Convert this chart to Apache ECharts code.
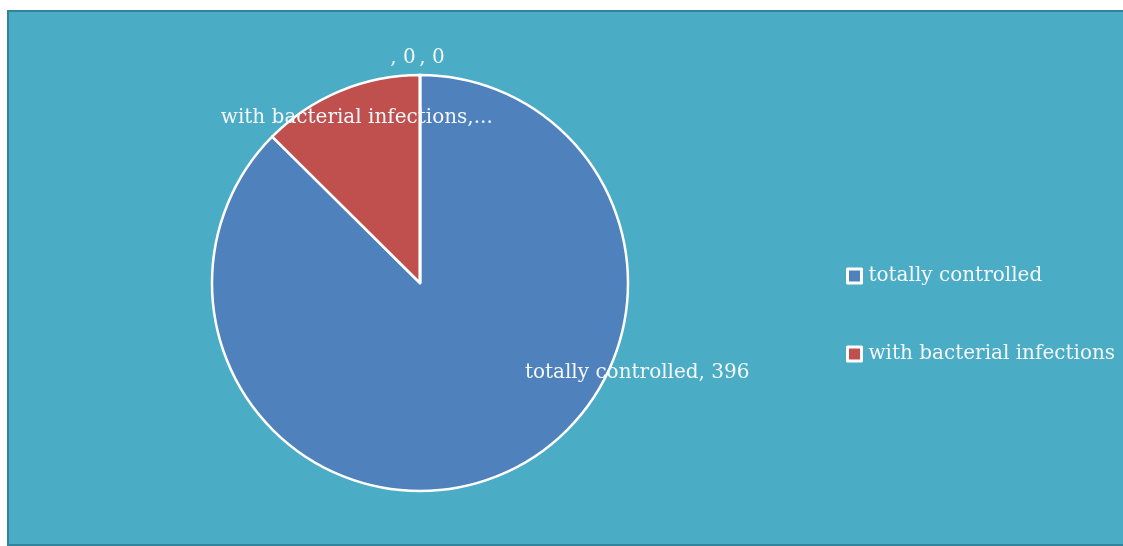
<!DOCTYPE html>
<html>
<head>
<meta charset="utf-8">
<script src="https://cdn.jsdelivr.net/npm/echarts@6/dist/echarts.min.js"></script>
<style>
  html, body { margin: 0; padding: 0; background: #ffffff; }
  #chart { width: 1123px; height: 546px; }
</style>
</head>
<body>
<div id="chart"></div>
<script>
  // data
  const names = ['totally controlled', 'with bacterial infections', '', '']
  const values = [396, 57, 0, 0]
  const legendNames = ['totally controlled', 'with bacterial infections']

  const colorList = ['#4f81bd', '#c0504d', '#9bbb59', '#8064a2']
  const textColor = '#f4f8fa'
  const fontFamily = '"DejaVu Serif", serif'

  // label nudges from the default inside position
  const labelShift = [
    { dx: 176, dy: -9 },
    { dx: -22, dy: -66 },
    { dx: -17, dy: -118 },
    { dx: 12, dy: -118 }
  ]

  const myChart = echarts.init(document.getElementById('chart'))

  const pieData = names.map((name, i) => ({
    name: name,
    value: values[i],
    itemStyle: { color: colorList[i] }
  }))

  const option = {
    animation: false,
    graphic: [
      {
        type: 'rect',
        z: -10,
        silent: true,
        shape: { x: 8, y: 11, width: 1130, height: 534 },
        style: { fill: '#4bacc6', stroke: '#31849b', lineWidth: 2 }
      }
    ],
    legend: {
      data: legendNames,
      orient: 'vertical',
      left: 841,
      top: 261,
      itemWidth: 14,
      itemHeight: 14,
      itemGap: 58,
      icon: 'rect',
      itemStyle: { borderColor: '#ffffff', borderWidth: 3 },
      textStyle: { color: textColor, fontSize: 20, fontFamily: fontFamily, padding: [0, 0, 0, 2] }
    },
    series: [
      {
        type: 'pie',
        center: [420, 283],
        radius: 208,
        startAngle: 90,
        clockwise: true,
        avoidLabelOverlap: false,
        itemStyle: { borderColor: '#ffffff', borderWidth: 2.5 },
        label: {
          show: true,
          position: 'inside',
          color: textColor,
          fontSize: 20,
          fontFamily: fontFamily,
          formatter: function (p) {
            if (p.dataIndex === 1) return p.name + ',...'
            return p.name + ', ' + p.value
          }
        },
        labelLine: { show: false },
        labelLayout: function (p) {
          return labelShift[p.dataIndex]
        },
        emphasis: { disabled: true },
        data: pieData
      }
    ]
  }

  myChart.setOption(option)
</script>
</body>
</html>
